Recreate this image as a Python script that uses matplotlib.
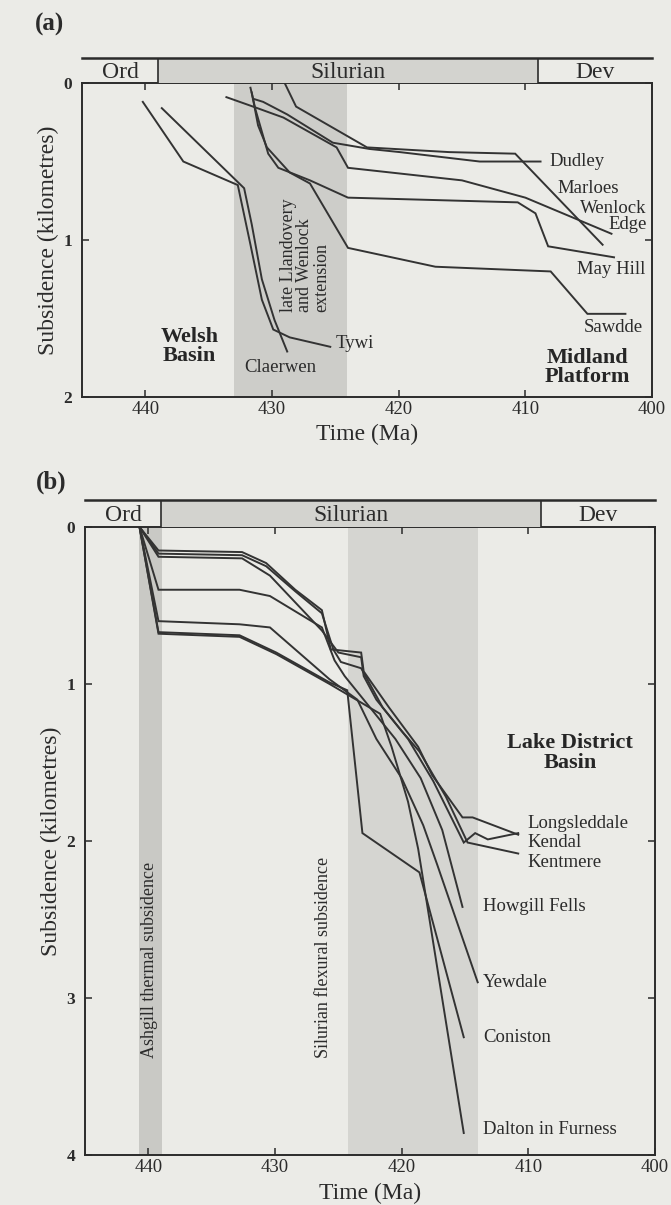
import matplotlib.pyplot as plt

plt.rcParams["font.family"] = ["Liberation Serif", "DejaVu Serif"]

BG = "#ebebe7"
INK = "#2b2b2b"
LINE = "#333333"
SHADE = "#cdcdc9"
BAR_FILL = "#d3d3cf"

# geological periods (Ma)
period_names = ["Ord", "Silurian", "Dev"]
period_edges = [445, 439, 409, 400]
x_ticks = [440, 430, 420, 410, 400]

# ---------------- (a) Welsh Basin / Midland Platform ----------------
band_a = [433.0, 424.1]

tywi_t = [440.2, 437.0, 432.7, 431.7, 430.8, 429.9, 428.6, 425.4]
tywi_d = [0.12, 0.50, 0.65, 1.03, 1.38, 1.57, 1.62, 1.68]
claerwen_t = [438.7, 432.2, 431.6, 430.8, 429.8, 428.8]
claerwen_d = [0.16, 0.67, 0.90, 1.25, 1.51, 1.71]
dudley_t = [431.5, 430.7, 428.8, 425.2, 422.3, 419.9, 413.6, 408.8]
dudley_d = [0.10, 0.12, 0.20, 0.38, 0.42, 0.44, 0.50, 0.50]
marloes_t = [429.0, 428.1, 422.5, 416.0, 410.8, 403.9]
marloes_d = [0.00, 0.15, 0.41, 0.44, 0.45, 1.03]
wenlock_t = [433.6, 431.5, 429.1, 424.9, 424.0, 415.0, 410.0, 403.2]
wenlock_d = [0.09, 0.15, 0.22, 0.41, 0.54, 0.62, 0.73, 0.96]
mayhill_t = [431.7, 431.3, 430.3, 429.5, 427.0, 424.0, 410.6, 409.2, 408.2, 403.0]
mayhill_d = [0.03, 0.17, 0.45, 0.54, 0.62, 0.73, 0.76, 0.83, 1.04, 1.11]
sawdde_t = [431.6, 431.1, 430.4, 428.6, 427.0, 424.0, 417.1, 408.0, 405.1, 402.1]
sawdde_d = [0.06, 0.27, 0.41, 0.57, 0.64, 1.05, 1.17, 1.20, 1.47, 1.47]

# ---------------- (b) Lake District Basin ----------------
band_b_ashgill = [440.7, 438.9]
band_b_silurian = [424.2, 414.0]

longsled_t = [440.7, 439.2, 432.6, 430.7, 428.4, 426.3, 425.6, 423.2, 423.0,
              421.0, 418.7, 417.6, 415.2, 414.4, 410.8]
longsled_d = [0.00, 0.15, 0.16, 0.23, 0.40, 0.53, 0.78, 0.80, 0.92,
              1.15, 1.40, 1.58, 1.85, 1.85, 1.96]
kendal_t = [440.7, 439.2, 432.6, 430.7, 428.4, 426.3, 425.4, 424.8, 423.2,
            421.5, 419.5, 417.5, 415.1, 414.2, 413.2, 410.8]
kendal_d = [0.00, 0.17, 0.18, 0.25, 0.41, 0.55, 0.78, 0.86, 0.90,
            1.15, 1.35, 1.62, 2.01, 1.95, 1.99, 1.95]
kentmere_t = [440.7, 439.2, 432.6, 430.4, 426.3, 425.0, 423.2, 423.0, 422.0,
              420.0, 418.6, 416.5, 414.8, 410.8]
kentmere_d = [0.00, 0.19, 0.20, 0.31, 0.66, 0.80, 0.83, 0.95, 1.10,
              1.30, 1.43, 1.72, 2.01, 2.08]
howgill_t = [440.7, 439.2, 432.8, 430.4, 426.3, 425.3, 424.5, 422.5, 420.5,
             418.5, 416.8, 415.2]
howgill_d = [0.00, 0.40, 0.40, 0.44, 0.64, 0.85, 0.95, 1.15, 1.35,
             1.60, 1.93, 2.42]
yewdale_t = [440.7, 439.2, 432.8, 430.4, 425.7, 423.5, 422.0, 420.0, 418.3,
             417.2, 414.0]
yewdale_d = [0.00, 0.60, 0.62, 0.64, 0.97, 1.10, 1.35, 1.60, 1.90,
             2.15, 2.90]
coniston_t = [440.7, 439.2, 432.8, 429.9, 425.7, 424.3, 423.1, 418.6, 415.1]
coniston_d = [0.00, 0.67, 0.69, 0.80, 0.99, 1.04, 1.95, 2.20, 3.25]
dalton_t = [440.7, 439.2, 432.8, 429.9, 425.7, 421.7, 420.8, 419.5, 418.7,
            418.4, 415.1]
dalton_d = [0.00, 0.68, 0.70, 0.81, 1.00, 1.19, 1.40, 1.75, 2.05,
            2.20, 3.86]


def setup_axes(ax, ymax):
    ax.set_facecolor(BG)
    ax.set_xlim(445, 400)
    ax.set_ylim(ymax, 0)
    ax.set_xticks(x_ticks)
    ax.set_yticks(range(ymax + 1))
    ax.tick_params(direction="in", length=5, width=1.1, top=True, right=True,
                   colors=INK, labelsize=13.5)
    ax.tick_params(axis="x", pad=3)
    ax.tick_params(axis="y", pad=7)
    ax.tick_params(labeltop=False, labelright=False)
    for lab in ax.get_yticklabels():
        lab.set_fontweight("bold")
        lab.set_fontsize(12.5)
    for sp in ax.spines.values():
        sp.set_color(INK)
        sp.set_linewidth(1.4)
    ax.set_ylabel("Subsidence (kilometres)", fontsize=17, color=INK)
    ax.set_xlabel("Time (Ma)", fontsize=17, color=INK)


def period_bar(bax):
    bax.set_xlim(445, 400)
    bax.set_ylim(0, 1)
    bax.axis("off")
    bax.axvspan(period_edges[1], period_edges[2], color=BAR_FILL, lw=0)
    bax.plot([period_edges[0], period_edges[-1]], [1, 1], color=INK,
             lw=1.8, clip_on=False)
    for e in period_edges[1:-1]:
        bax.plot([e, e], [0, 1], color=INK, lw=1.2)
    for i, name in enumerate(period_names):
        mid = (period_edges[i] + period_edges[i + 1]) / 2
        bax.text(mid, 0.42, name, ha="center", va="center", fontsize=17,
                 color=INK)


def draw(ax, t, d):
    ax.plot(t, d, color=LINE, lw=1.4, solid_joinstyle="miter")


fig = plt.figure(figsize=(6.71, 12.05), dpi=100, facecolor=BG)

region = dict(fontsize=16, fontweight="bold", color="#262626",
              ha="center", va="center", linespacing=0.95)

# ---- panel (a)
ax_a = fig.add_axes([0.1222, 0.6705, 0.8495, 0.2606])
bar_a = fig.add_axes([0.1222, 0.9311, 0.8495, 0.0207])
setup_axes(ax_a, 2)
period_bar(bar_a)
ax_a.axvspan(band_a[0], band_a[1], color=SHADE, lw=0, zorder=0)
for t, d in [(tywi_t, tywi_d), (claerwen_t, claerwen_d),
             (dudley_t, dudley_d), (marloes_t, marloes_d),
             (wenlock_t, wenlock_d), (mayhill_t, mayhill_d),
             (sawdde_t, sawdde_d)]:
    draw(ax_a, t, d)
ax_a.yaxis.set_label_coords(-0.040, 0.5)
ax_a.xaxis.set_label_coords(0.5, -0.085)

lab = dict(fontsize=13.5, color=INK, va="center")
ax_a.text(408.1, 0.50, "Dudley", ha="left", **lab)
ax_a.text(407.5, 0.67, "Marloes", ha="left", **lab)
ax_a.text(400.4, 0.85, "Wenlock\nEdge", ha="right", multialignment="right",
          linespacing=0.95, **lab)
ax_a.text(405.9, 1.19, "May Hill", ha="left", **lab)
ax_a.text(405.4, 1.56, "Sawdde", ha="left", **lab)
ax_a.text(425.0, 1.66, "Tywi", ha="left", **lab)
ax_a.text(432.2, 1.81, "Claerwen", ha="left", **lab)
ax_a.text(436.5, 1.68, "Welsh\nBasin", **region)
ax_a.text(405.1, 1.81, "Midland\nPlatform", **region)
ax_a.text(427.4, 1.46, "late Llandovery\nand Wenlock\nextension",
          rotation=90, ha="center", va="bottom", multialignment="left",
          fontsize=13, color=INK, linespacing=0.95)
fig.text(50 / 671, 1 - 24 / 1205, "(a)", ha="center", va="center",
         fontsize=18, fontweight="bold", color=INK)

# ---- panel (b)
ax_b = fig.add_axes([0.1267, 0.0415, 0.8495, 0.5212])
bar_b = fig.add_axes([0.1267, 0.5627, 0.8495, 0.0224])
setup_axes(ax_b, 4)
period_bar(bar_b)
ax_b.axvspan(band_b_ashgill[0], band_b_ashgill[1], color="#c9c9c5", lw=0,
             zorder=0)
ax_b.axvspan(band_b_silurian[0], band_b_silurian[1], color="#d5d5d1", lw=0,
             zorder=0)
for t, d in [(longsled_t, longsled_d), (kendal_t, kendal_d),
             (kentmere_t, kentmere_d), (howgill_t, howgill_d),
             (yewdale_t, yewdale_d), (coniston_t, coniston_d),
             (dalton_t, dalton_d)]:
    draw(ax_b, t, d)
ax_b.yaxis.set_label_coords(-0.040, 0.5)
ax_b.xaxis.set_label_coords(0.5, -0.044)

ax_b.text(406.7, 1.44, "Lake District\nBasin", **region)
ax_b.text(410.1, 1.89, "Longsleddale", ha="left", **lab)
ax_b.text(410.1, 2.01, "Kendal", ha="left", **lab)
ax_b.text(410.1, 2.14, "Kentmere", ha="left", **lab)
ax_b.text(413.6, 2.42, "Howgill Fells", ha="left", **lab)
ax_b.text(413.6, 2.90, "Yewdale", ha="left", **lab)
ax_b.text(413.6, 3.25, "Coniston", ha="left", **lab)
ax_b.text(413.6, 3.84, "Dalton in Furness", ha="left", **lab)
ax_b.text(439.9, 2.76, "Ashgill thermal subsidence", rotation=90,
          ha="center", va="center", fontsize=13, color=INK)
ax_b.text(426.2, 2.74, "Silurian flexural subsidence", rotation=90,
          ha="center", va="center", fontsize=13, color=INK)
fig.text(51 / 671, 1 - 482 / 1205, "(b)", ha="center", va="center",
         fontsize=18, fontweight="bold", color=INK)

fig.savefig("out.png", dpi=100, facecolor=BG)
